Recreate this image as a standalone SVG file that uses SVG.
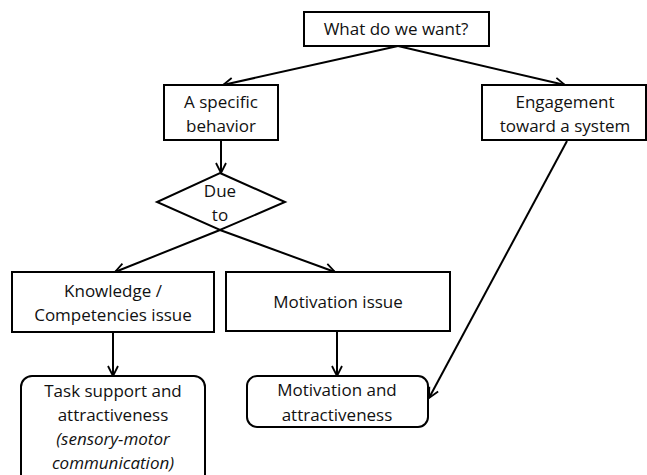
<svg xmlns="http://www.w3.org/2000/svg" width="647" height="475" viewBox="0 0 647 475">
<style>
.b{fill:#fff;stroke:#000;stroke-width:2}
.t{font-family:"Open Sans","Liberation Sans",sans-serif;font-size:17px;fill:#111;text-anchor:middle}
.i{font-style:italic}
.c{fill:none;stroke:#000;stroke-width:2}
</style>
<defs>
<marker id="a" viewBox="0 0 12 12" refX="11" refY="6" markerWidth="12" markerHeight="12" markerUnits="userSpaceOnUse" orient="auto">
<path d="M1,1 L11,6 L1,11" fill="none" stroke="#000" stroke-width="1.8"/>
</marker>
</defs>
<rect width="647" height="475" fill="#fff"/>
<g id="connectors">
<line class="c" x1="398" y1="46" x2="223" y2="85" marker-end="url(#a)"/>
<line class="c" x1="398" y1="46" x2="565" y2="85" marker-end="url(#a)"/>
<line class="c" x1="221" y1="140" x2="221" y2="173" marker-end="url(#a)"/>
<line class="c" x1="220" y1="230" x2="115" y2="272" marker-end="url(#a)"/>
<line class="c" x1="220" y1="230" x2="335" y2="272" marker-end="url(#a)"/>
<line class="c" x1="113" y1="332" x2="113" y2="376" marker-end="url(#a)"/>
<line class="c" x1="337" y1="332" x2="337" y2="376" marker-end="url(#a)"/>
<line class="c" x1="567" y1="141" x2="429" y2="398" marker-end="url(#a)"/>
</g>
<g id="want">
<rect class="b" x="304" y="12" width="185" height="34"/>
<text class="t" x="396" y="35">What do we want?</text>
</g>
<g id="behavior">
<rect class="b" x="164" y="85" width="114" height="55"/>
<text class="t" x="221" y="108">A specific</text>
<text class="t" x="221" y="132">behavior</text>
</g>
<g id="engagement">
<rect class="b" x="482" y="85" width="164" height="55"/>
<text class="t" x="565" y="108">Engagement</text>
<text class="t" x="565" y="132">toward a system</text>
</g>
<g id="due">
<polygon class="b" points="220,173 285,202 220,230 157,202"/>
<text class="t" x="220" y="197">Due</text>
<text class="t" x="220" y="221">to</text>
</g>
<g id="knowledge">
<rect class="b" x="12" y="272" width="202" height="60"/>
<text class="t" x="113" y="297">Knowledge /</text>
<text class="t" x="113" y="321">Competencies issue</text>
</g>
<g id="motivation-issue">
<rect class="b" x="226" y="272" width="224" height="59"/>
<text class="t" x="338" y="308">Motivation issue</text>
</g>
<g id="task">
<rect class="b" x="21" y="376" width="184" height="110" rx="11"/>
<text class="t" x="113" y="397">Task support and</text>
<text class="t" x="113" y="421">attractiveness</text>
<text class="t i" x="113" y="445">(sensory-motor</text>
<text class="t i" x="113" y="469">communication)</text>
</g>
<g id="motivation-attr">
<rect class="b" x="247" y="376" width="181" height="51" rx="10"/>
<text class="t" x="337" y="396">Motivation and</text>
<text class="t" x="337" y="421">attractiveness</text>
</g>
</svg>
